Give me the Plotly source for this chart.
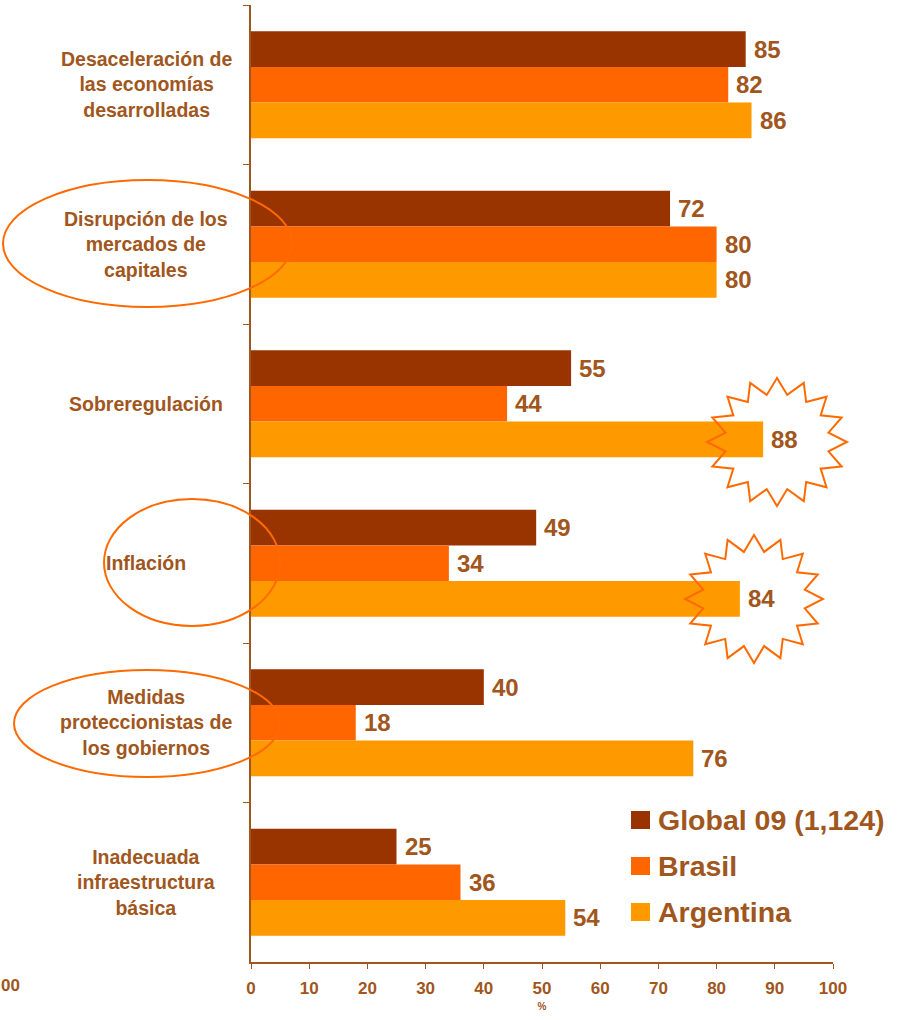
import math
import plotly.graph_objects as go

# ---------------- data ----------------
categories = [
    "Desaceleración de<br>las economías<br>desarrolladas",
    "Disrupción de los<br>mercados de<br>capitales",
    "Sobreregulación",
    "Inflación",
    "Medidas<br>proteccionistas de<br>los gobiernos",
    "Inadecuada<br>infraestructura<br>básica",
]
global09 = [85, 72, 55, 49, 40, 25]
brasil = [82, 80, 44, 34, 18, 36]
argentina = [86, 80, 88, 84, 76, 54]
series_names = ["Global 09 (1,124)", "Brasil", "Argentina"]
x_ticks = [0, 10, 20, 30, 40, 50, 60, 70, 80, 90, 100]

# ---------------- styling ----------------
colors = ["#993300", "#FF6600", "#FF9900"]
TXT = "#A0561C"
HL = "#FF6A00"
FONT = "Liberation Sans, Arial, sans-serif"
W, H = 901, 1020
L, R, T, B = 251, 68, 5, 58
PW, PH = W - L - R, H - T - B


def px(x):
    return (x - L) / PW


def py(y):
    return (H - B - y) / PH


series = [global09, brasil, argentina]
fig = go.Figure()
for name, vals, col in zip(series_names, series, colors):
    fig.add_trace(go.Bar(
        y=categories, x=vals, name=name, orientation="h",
        marker=dict(color=col, line=dict(width=0)),
        showlegend=False, hoverinfo="x+name",
    ))

annotations = []
# value labels
bar_h = PH / len(categories) * 0.67 / 3
for i, vals in enumerate(series):
    for cat, v in zip(categories, vals):
        annotations.append(dict(
            x=v, y=cat, xref="x", yref="y", text=str(v), showarrow=False,
            xanchor="left", yanchor="middle", xshift=6, yshift=(1 - i) * bar_h,
            font=dict(family=FONT, size=24, color=TXT, weight="bold"),
        ))
# category labels
for cat in categories:
    annotations.append(dict(
        x=px(146), y=cat, xref="paper", yref="y", text=cat, showarrow=False,
        xanchor="center", yanchor="middle", align="center",
        font=dict(family=FONT, size=19.5, color=TXT, weight="bold"),
    ))
# stray fragment at left
annotations.append(dict(
    x=px(-1), y=py(986), xref="paper", yref="paper", text="00", showarrow=False,
    xanchor="left", yanchor="middle",
    font=dict(family=FONT, size=17, color=TXT, weight="bold"),
))

shapes = []
# legend (manual)
leg_y = [820, 866, 912]
for name, col, yc in zip(series_names, colors, leg_y):
    shapes.append(dict(type="rect", xref="paper", yref="paper",
                       x0=px(631), x1=px(650), y0=py(yc - 9), y1=py(yc + 9),
                       fillcolor=col, line=dict(width=0)))
    annotations.append(dict(
        x=px(656), y=py(yc), xref="paper", yref="paper", text=name, showarrow=False,
        xanchor="left", yanchor="middle",
        font=dict(family=FONT, size=28.5, color=TXT, weight="bold"),
    ))

# highlight ellipses
for (x0, x1, y0, y1) in [(3, 292, 180, 307), (104, 280, 499, 626), (14, 280, 670, 777)]:
    shapes.append(dict(type="circle", xref="paper", yref="paper",
                       x0=px(x0), x1=px(x1), y0=py(y1), y1=py(y0),
                       line=dict(color=HL, width=2), fillcolor="rgba(0,0,0,0)",
                       layer="above"))


def star_path(cx, cy, rx, ry, n=16, ratio=0.75):
    pts = []
    for k in range(2 * n):
        a = math.pi / 2 + k * math.pi / n
        r = 1.0 if k % 2 == 0 else ratio
        x = cx + rx * r * math.cos(a)
        y = cy - ry * r * math.sin(a)
        pts.append((px(x), py(y)))
    return "M " + " L ".join(f"{a:.5f},{b:.5f}" for a, b in pts) + " Z"


for (cx, cy, rx, ry) in [(777, 442, 70, 64), (754, 599, 69, 64)]:
    shapes.append(dict(type="path", xref="paper", yref="paper",
                       path=star_path(cx, cy, rx, ry),
                       line=dict(color=HL, width=2), fillcolor="rgba(0,0,0,0)",
                       layer="above"))

fig.update_layout(
    width=W, height=H,
    margin=dict(l=L, r=R, t=T, b=B, pad=0),
    paper_bgcolor="white", plot_bgcolor="white",
    barmode="group", bargap=0.33, bargroupgap=0,
    showlegend=False,
    annotations=annotations, shapes=shapes,
    xaxis=dict(
        range=[0, 100], tickvals=x_ticks, ticks="outside", ticklen=5,
        tickcolor=TXT, showline=True, linecolor=TXT, linewidth=1.5,
        showgrid=False, zeroline=False,
        tickfont=dict(family=FONT, size=17, color=TXT, weight="bold"),
        ticklabelstandoff=5,
        title=dict(text="%", font=dict(family=FONT, size=10, color=TXT, weight="bold"),
                   standoff=6),
    ),
    yaxis=dict(
        type="category", autorange="reversed", categoryorder="array",
        categoryarray=categories,
        showticklabels=False, ticks="outside", ticklen=6, tickson="boundaries",
        tickcolor=TXT, showline=True, linecolor=TXT, linewidth=1.5,
        showgrid=False, zeroline=False,
    ),
)

fig.write_html("out.html", config={"displayModeBar": False},
               post_script="document.body.style.margin='0px';")
